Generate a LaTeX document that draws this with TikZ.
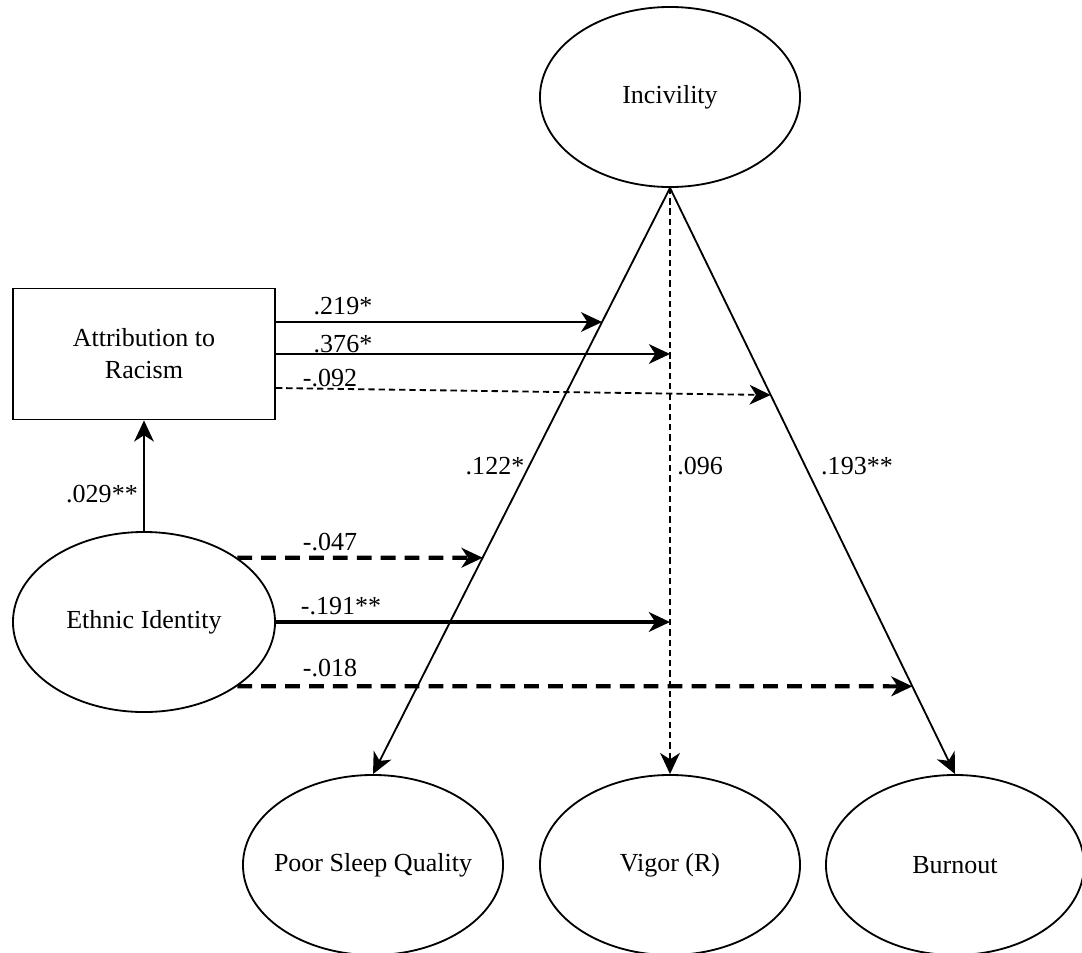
\documentclass[tikz,border=0pt]{standalone}
\usepackage{fontspec}
\setmainfont{Liberation Serif}
\usetikzlibrary{positioning,arrows.meta,calc,shapes.geometric}

\begin{document}
\begin{tikzpicture}[x=0.025cm,y=-0.025cm,
    font=\fontsize{18.5}{22.7}\selectfont,
    latent/.style={draw,ellipse,line width=1.3pt,inner sep=0pt,
        minimum width=6.5cm,minimum height=4.5cm},
    observed/.style={draw,rectangle,line width=1.3pt,align=center,
        minimum width=6.55cm,minimum height=3.275cm},
    path/.style={line width=1.3pt,-{Stealth[length=15pt,width=14pt,inset=4.5pt]}},
    weak/.style={path,dash pattern=on 4.5pt off 2.8pt},
    strong/.style={path,line width=3pt},
    weakstrong/.style={strong,dash pattern=on 10.5pt off 6.5pt},
    coef/.style={inner sep=1pt}]
    \useasboundingbox (0,0) rectangle (1082,952);
    %%%%% THE VARIABLES
    \node[latent] (inc) at (670,97) {Incivility};
    \node[observed] (attr) at (144,354) {Attribution to\\Racism};
    \node[latent,minimum width=6.55cm] (ethnic) at (144,622) {Ethnic Identity};
    \node[latent,label={center:Poor Sleep Quality}] (sleep) at (373,865) {};
    \node[latent] (vigor) at (670,865) {Vigor (R)};
    \node[latent,minimum width=6.45cm] (burn) at (955,865) {Burnout};
    %%%%% DIRECT PATHS
    \draw[path] (inc.south) -- (sleep.north);
    \draw[weak] (inc.south) -- (vigor.north);
    \draw[path] (inc.south) -- (burn.north);
    \draw[path] (ethnic.north) -- (attr.south);
    %%%%% MODERATION BY ATTRIBUTION
    \coordinate (a1) at ($(attr.east)+(0,-32)$);
    \coordinate (a1r) at (a1 -| inc.south);
    \coordinate (a2) at (attr.east);
    \coordinate (a3) at ($(attr.east)+(0,34)$);
    \coordinate (a3b) at ($(attr.east)+(0,41)$);
    \coordinate (a3r) at (a3b -| inc.south);
    \draw[path] (a1) -- (intersection of inc.south--sleep.north and a1--a1r);
    \draw[path] (a2) -- (a2 -| inc.south);
    \draw[weak] (a3) -- (intersection of inc.south--burn.north and a3b--a3r);
    %%%%% MODERATION BY ETHNIC IDENTITY
    \coordinate (e1) at (ethnic.north east);
    \coordinate (e1r) at (e1 -| inc.south);
    \coordinate (e3) at (ethnic.south east);
    \coordinate (e3r) at (e3 -| inc.south);
    \draw[weakstrong] (e1) -- (intersection of inc.south--sleep.north and e1--e1r);
    \draw[strong] (ethnic.east) -- (ethnic.east -| inc.south);
    \draw[weakstrong] (e3) -- (intersection of inc.south--burn.north and e3--e3r);
    %%%%% COEFFICIENTS
    \node[coef] (c219) at (343,306) {.219*};
    \node[coef] (c376) at (343,344) {.376*};
    \node[coef] (c092) at (330,378) {-.092};
    \node[coef] (c029) at (102,494) {.029**};
    \node[coef] (c122) at (495,466) {.122*};
    \node[coef] (c096) at (700,466) {.096};
    \node[coef] (c193) at (857,466) {.193**};
    \node[coef] (c047) at (330,542) {-.047};
    \node[coef] (c191) at (341,606) {-.191**};
    \node[coef] (c018) at (330,668) {-.018};
\end{tikzpicture}
\end{document}
